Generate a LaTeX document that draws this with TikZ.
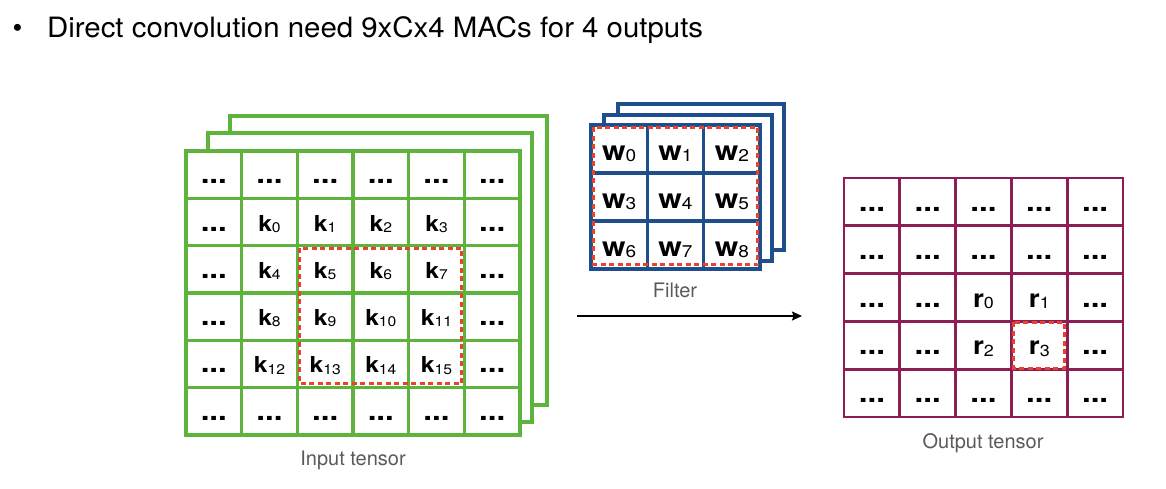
\documentclass[tikz,border=0pt]{standalone}
\usepackage{fontspec}
\setmainfont{TeX Gyre Heros}
\newfontfamily\titlefont[FakeStretch=1.05]{TeX Gyre Heros}
\newfontfamily\cellfont[FakeStretch=1.12]{TeX Gyre Heros}
\usetikzlibrary{arrows.meta,calc}
\definecolor{ingreen}{HTML}{5DB33C}
\definecolor{filblue}{HTML}{1F4E8C}
\definecolor{outred}{HTML}{8C1D55}
\definecolor{dashred}{HTML}{E8412C}
\definecolor{labgrey}{HTML}{5A5A5A}
\newcommand{\celldots}{{\fontsize{28}{28}\selectfont\bfseries ...}}
\newcommand{\kv}[3]{{\bfseries #1}{\fontsize{#3}{#3}\selectfont\mdseries\raisebox{-1.2pt}{#2}}}
\tikzset{
  cellbase/.style={draw, fill=white, rectangle, inner sep=0pt, text depth=0pt, anchor=center},
  incell/.style={cellbase, draw=ingreen, line width=3.2pt, minimum width=55.67pt, minimum height=47.33pt, text height=18pt, font=\cellfont\fontsize{22}{22}\selectfont},
  filcell/.style={cellbase, draw=filblue, line width=3.3pt, minimum width=56.33pt, minimum height=48pt, text height=22pt, font=\cellfont\fontsize{27}{27}\selectfont},
  outcell/.style={cellbase, draw=outred, line width=2.9pt, minimum width=55.8pt, minimum height=47.8pt, text height=19pt, font=\cellfont\fontsize{25}{25}\selectfont},
  inlayer/.style={draw=ingreen, line width=3.2pt, fill=white},
  fillayer/.style={draw=filblue, line width=3.3pt, fill=white},
  reddash/.style={draw=dashred, line width=3pt, dash pattern=on 5pt off 3.5pt},
  caption/.style={text=labgrey, font=\fontsize{20}{20}\selectfont, anchor=base, inner sep=0pt},
}
\begin{document}
\begin{tikzpicture}[x=1pt,y=-1pt]
\useasboundingbox (0,0) rectangle (1166,488);
% title
\node[font=\fontsize{28}{28}\selectfont, anchor=base, inner sep=0pt] (bullet) at (17.5,37.7) {•};
\node[font=\titlefont\fontsize{28}{28}\selectfont, anchor=base west, inner sep=0pt] (title) at (47,37.7) {Direct convolution need 9xCx4 MACs for 4 outputs};
% input tensor back layers
\draw[inlayer] (230,116) rectangle (547,405);
\draw[inlayer] (208,133) rectangle (532,422);
% input grid
\foreach \j in {0,...,5}{
  \foreach \i in {0,...,5}{
    \pgfmathtruncatemacro\kidx{(\j-1)*4+\i-1}
    \pgfmathtruncatemacro\inner{and(and(\i>0,\i<5),and(\j>0,\j<5))}
    \ifnum\inner=1
      \node[incell] (in-\i-\j) at ({186+55.67*(\i+0.5)},{151+47.33*(\j+0.5)}) {\kv{k}{\kidx}{14}};
    \else
      \node[incell] (in-\i-\j) at ({186+55.67*(\i+0.5)},{151+47.33*(\j+0.5)}) {\celldots};
    \fi
  }
}
\draw[reddash] ($(in-2-2.north west)+(4,4)$) rectangle ($(in-4-4.south east)+(-4,-6)$);
\node[caption] (incap) at (353,465) {Input tensor};
% filter back layers
\draw[fillayer] (618,104) rectangle (784,250);
\draw[fillayer] (604,115) rectangle (772,261);
\foreach \j in {0,1,2}{
  \foreach \i in {0,1,2}{
    \pgfmathtruncatemacro\widx{\j*3+\i}
    \node[filcell] (fil-\i-\j) at ({591+56.33*(\i+0.5)},{125+48*(\j+0.5)}) {\kv{w}{\widx}{17}};
  }
}
\draw[reddash] ($(fil-0-0.north west)+(4,4)$) rectangle ($(fil-2-2.south east)+(-4,-6)$);
\node[caption] (filcap) at (675,297) {Filter};
% arrow
\coordinate (arrS) at (577,316);
\coordinate (arrE) at (802,316);
\draw[line width=1.6pt, -{Stealth[length=10pt,width=9pt,inset=1.5pt]}] (arrS) -- (arrE);
% output grid
\foreach \j in {0,...,4}{
  \foreach \i in {0,...,4}{
    \pgfmathtruncatemacro\ridx{(\j-2)*2+\i-2}
    \pgfmathtruncatemacro\inner{and(and(\i>1,\i<4),and(\j>1,\j<4))}
    \ifnum\inner=1
      \node[outcell] (out-\i-\j) at ({844+55.8*(\i+0.5)},{178+47.8*(\j+0.5)}) {\kv{r}{\ridx}{16}};
    \else
      \node[outcell] (out-\i-\j) at ({844+55.8*(\i+0.5)},{178+47.8*(\j+0.5)}) {\celldots};
    \fi
  }
}
\draw[reddash] ($(out-3-3.north west)+(4,2.5)$) rectangle ($(out-3-3.south east)+(-4,-2.5)$);
\node[caption] (outcap) at (983,448) {Output tensor};
\end{tikzpicture}
\end{document}
